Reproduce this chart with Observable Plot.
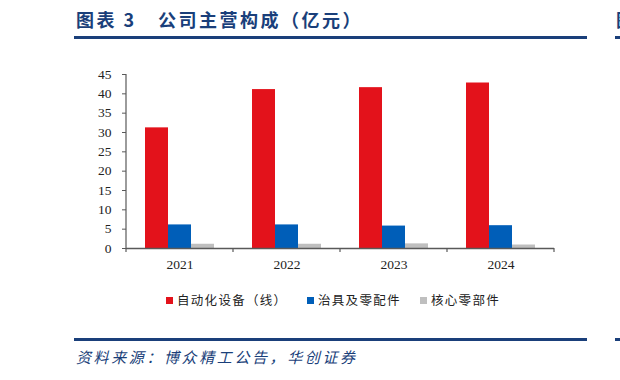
<!DOCTYPE html>
<html>
<head>
<meta charset="utf-8">
<script src="https://cdn.jsdelivr.net/npm/d3@7"></script>
<script src="https://cdn.jsdelivr.net/npm/@observablehq/plot@0.6"></script>
<style>
  html, body { margin: 0; padding: 0; background: #fff; }
  body { width: 620px; height: 380px; position: relative; overflow: hidden; font-family: "Noto Sans CJK SC", sans-serif; }
  .abs { position: absolute; white-space: nowrap; }
  .title { color: #1a3f7a; font-weight: bold; font-size: 18px; letter-spacing: 2.5px; line-height: 20px; top: 9px; }
  .rule { position: absolute; height: 2.5px; background: #1a3f7a; }
  .source { color: #1a3f7a; font-style: italic; font-size: 15px; letter-spacing: 2.6px; top: 347px; left: 76px; line-height: 20px; }
  .legend-item { position: absolute; top: 291px; display: flex; align-items: center; font-size: 12.5px; letter-spacing: 1.3px; color: #222; line-height: 18px; }
  .legend-item span.sw { width: 7px; height: 7px; display: inline-block; margin-right: 4px; }
  #chart { position: absolute; left: 0; top: 60px; }
</style>
</head>
<body>
<div class="abs title" style="left:76px">图表 3</div>
<div class="abs title" style="left:158px">公司主营构成（亿元）</div>
<div class="abs title" style="left:616px">图表</div>
<div class="rule" style="left:74px; width:513px; top:36px"></div>
<div class="rule" style="left:615px; width:10px; top:36px"></div>
<div id="legend"></div>
<div id="chart"></div>
<div class="rule" style="left:74px; width:513px; top:338px"></div>
<div class="rule" style="left:615px; width:10px; top:338px"></div>
<div class="abs source">资料来源：博众精工公告，华创证券</div>
<script>
const years = ["2021", "2022", "2023", "2024"];
const series = ["自动化设备（线）", "治具及零配件", "核心零部件"];
const automation = [31.2, 41.1, 41.6, 42.8];
const fixtures = [6.1, 6.1, 5.8, 5.9];
const coreParts = [1.1, 1.1, 1.2, 0.9];
const yTicks = [0, 5, 10, 15, 20, 25, 30, 35, 40, 45];
const colors = ["#e3121b", "#005eb8", "#bfbfbf"];

const valuesBySeries = [automation, fixtures, coreParts];
const rows = [];
years.forEach((yr, i) => {
  series.forEach((s, j) => rows.push({year: yr, series: s, value: valuesBySeries[j][i]}));
});

const serif = "'Liberation Serif', 'Times New Roman', serif";
const axisColor = "#595959";

const plot = Plot.plot({
  width: 620,
  height: 218,
  marginTop: 14,
  marginBottom: 30,
  marginLeft: 125,
  marginRight: 65,
  style: {fontFamily: serif, fontSize: "13.5px", color: "#222", background: "transparent"},
  fx: {domain: years, padding: 0, label: null},
  x: {domain: series, paddingInner: 0, paddingOuter: 0.74, axis: null},
  y: {domain: [0, 45], label: null},
  color: {domain: series, range: colors},
  marks: [
    Plot.barY(rows, {fx: "year", x: "series", y: "value", fill: "series"}),
    Plot.ruleY([0], {stroke: axisColor, strokeWidth: 1.5}),
    Plot.axisY({ticks: yTicks, tickSize: 4, tickPadding: 11, stroke: axisColor, label: null, fontSize: 13.5}),
    Plot.axisFx({anchor: "bottom", tickSize: 0, tickPadding: 11, label: null, fontSize: 13.5})
  ]
});
document.getElementById("chart").appendChild(plot);

// axis line and category boundary ticks, positioned with Plot's own scales
const fx = plot.scale("fx");
const ys = plot.scale("y");
const svg = d3.select(plot);
const y0 = ys.apply(0);
const yTop = ys.apply(45);
const xLeft = fx.apply(years[0]);
svg.append("line")
  .attr("x1", xLeft).attr("x2", xLeft).attr("y1", yTop).attr("y2", y0)
  .attr("stroke", axisColor).attr("stroke-width", 1.2);
const bounds = years.map(yr => fx.apply(yr)).concat([fx.apply(years[years.length - 1]) + fx.bandwidth]);
svg.selectAll("line.bt").data(bounds).join("line")
  .attr("class", "bt")
  .attr("x1", d => d).attr("x2", d => d)
  .attr("y1", y0).attr("y2", y0 + 4)
  .attr("stroke", axisColor).attr("stroke-width", 1.2);

// legend
const legendLefts = [166, 307, 420];
const legend = document.getElementById("legend");
series.forEach((s, i) => {
  const item = document.createElement("div");
  item.className = "legend-item";
  item.style.left = legendLefts[i] + "px";
  item.innerHTML = `<span class="sw" style="background:${colors[i]}"></span><span>${s}</span>`;
  legend.appendChild(item);
});
</script>
</body>
</html>
